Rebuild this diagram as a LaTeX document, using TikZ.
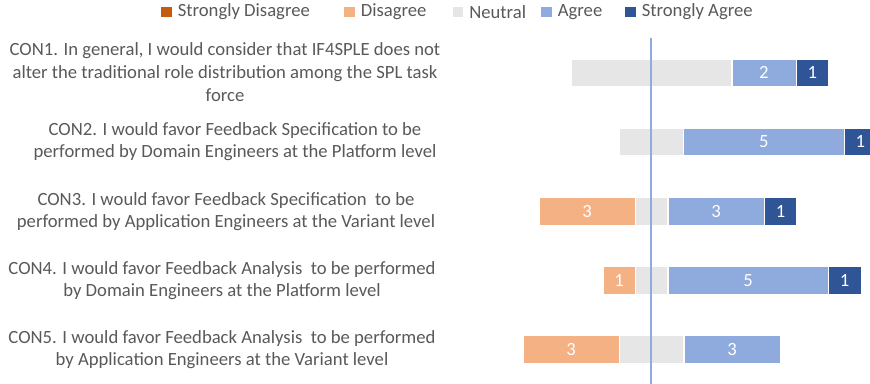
\documentclass[tikz,border=0pt]{standalone}
\usepackage{fontspec}
\setmainfont{Carlito}
\usetikzlibrary{positioning}
\definecolor{sdis}{HTML}{C55A11}
\definecolor{dis}{HTML}{F4B183}
\definecolor{neu}{HTML}{E7E6E6}
\definecolor{agr}{HTML}{8FAADC}
\definecolor{sagr}{HTML}{2F5597}
\definecolor{txtgray}{HTML}{595959}
\tikzset{
    bar/.style={rectangle, anchor=west, inner sep=0, minimum height=20.6pt, draw=white, line width=0.3pt, text=white, font=\fontsize{14}{17}\selectfont},
    units/.style={minimum width=#1*24.04pt},
    question/.style={align=center, text=txtgray, inner sep=0, font=\fontsize{14}{17}\selectfont},
    legbox/.style={rectangle, inner sep=0, minimum size=8.2pt},
    legtext/.style={text=txtgray, inner sep=0, anchor=west, font=\fontsize{14}{17}\selectfont},
}

\begin{document}
\begin{tikzpicture}[x=0.75pt, y=-0.75pt]
    \useasboundingbox (0,0) rectangle (870,384);
    \clip (0,0) rectangle (870,384);

    % legend
    \node[legbox, fill=sdis] at (166.5,12) (lsd) {};
    \node[legtext, right=4pt of lsd] (tsd) {Strongly Disagree};
    \node[legbox, fill=dis] at (349.5,12) (ld) {};
    \node[legtext, right=4pt of ld] (td) {Disagree};
    \node[legbox, fill=neu] at (458,12) (ln) {};
    \node[legtext, right=4pt of ln] (tn) {Neutral};
    \node[legbox, fill=agr] at (546.5,12) (la) {};
    \node[legtext, right=4pt of la] (ta) {Agree};
    \node[legbox, fill=sagr] at (630.5,12) (lsa) {};
    \node[legtext, right=4pt of lsa] (tsa) {Strongly Agree};

    % questions
    \node[question] at (225,72) (con1) {CON1. In general, I would consider that IF4SPLE does not\\alter the traditional role distribution among the SPL task\\force};
    \node[question] at (235,141.5) (con2) {CON2. I would favor Feedback Specification to be\\performed by Domain Engineers at the Platform level};
    \node[question] at (226,211.5) (con3) {CON3. I would favor Feedback Specification~ to be\\performed by Application Engineers at the Variant level};
    \node[question] at (222,280.5) (con4) {CON4. I would favor Feedback Analysis~ to be performed\\by Domain Engineers at the Platform level};
    \node[question] at (222,349.5) (con5) {CON5. I would favor Feedback Analysis~ to be performed\\by Application Engineers at the Variant level};

    % CON1
    \node[bar, units=5, fill=neu] at (570.9,72.7) (n1) {};
    \node[bar, units=2, fill=agr] at (n1.east) (a1) {2};
    \node[bar, units=1, fill=sagr] at (a1.east) (sa1) {1};

    % CON2
    \node[bar, units=2, fill=neu] at (618.95,141.7) (n2) {};
    \node[bar, units=5, fill=agr] at (n2.east) (a2) {5};
    \node[bar, units=1, fill=sagr] at (a2.east) (sa2) {1};

    % CON3
    \node[bar, units=3, fill=dis] at (538.8,211.2) (d3) {3};
    \node[bar, units=1, fill=neu] at (d3.east) (n3) {};
    \node[bar, units=3, fill=agr] at (n3.east) (a3) {3};
    \node[bar, units=1, fill=sagr] at (a3.east) (sa3) {1};

    % CON4
    \node[bar, units=1, fill=dis] at (602.9,280.3) (d4) {1};
    \node[bar, units=1, fill=neu] at (d4.east) (n4) {};
    \node[bar, units=5, fill=agr] at (n4.east) (a4) {5};
    \node[bar, units=1, fill=sagr] at (a4.east) (sa4) {1};

    % CON5
    \node[bar, units=3, fill=dis] at (522.8,349.2) (d5) {3};
    \node[bar, units=2, fill=neu] at (d5.east) (n5) {};
    \node[bar, units=3, fill=agr] at (n5.east) (a5) {3};

    % zero line
    \coordinate (ztop) at (651,38);
    \coordinate (zbot) at (651,384);
    \draw[agr, line width=1.1pt] (ztop) -- (zbot);

\end{tikzpicture}
\end{document}
